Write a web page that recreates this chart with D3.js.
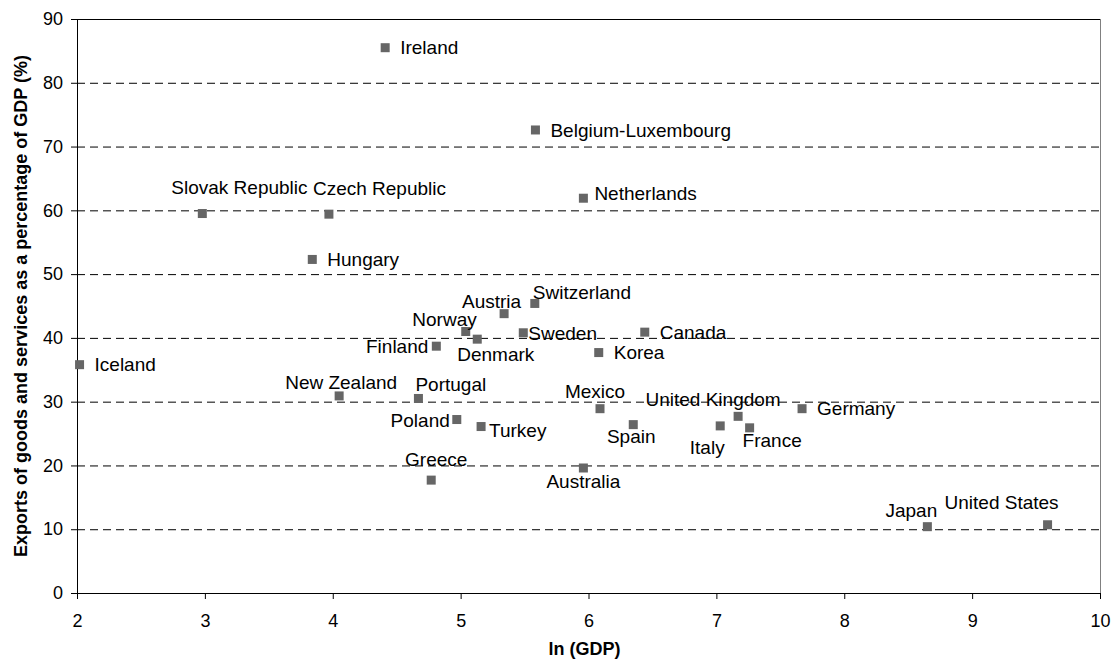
<!DOCTYPE html>
<html>
<head>
<meta charset="utf-8">
<script src="https://cdn.jsdelivr.net/npm/d3@7"></script>
<style>
  body { margin: 0; background: #fff; }
  text { font-family: "Liberation Sans", Arial, sans-serif; fill: #000; }
  .tick text { font-size: 18px; }
  .axisTitle { font-size: 18px; font-weight: bold; }
  .ptLabel { font-size: 19px; }
</style>
</head>
<body>
<div id="chart"></div>
<script>
// data
var countries = ["Ireland", "Belgium-Luxembourg", "Netherlands", "Slovak Republic", "Czech Republic",
  "Hungary", "Switzerland", "Austria", "Norway", "Sweden", "Canada", "Denmark", "Finland", "Korea",
  "Iceland", "New Zealand", "Portugal", "Mexico", "Germany", "United Kingdom", "Poland", "Spain",
  "Italy", "Turkey", "France", "Australia", "Greece", "Japan", "United States"];
var lnGdp = [4.41, 5.585, 5.96, 2.98, 3.97,
  3.84, 5.58, 5.34, 5.04, 5.49, 6.44, 5.13, 4.81, 6.08,
  2.02, 4.05, 4.67, 6.09, 7.67, 7.17, 4.97, 6.35,
  7.03, 5.16, 7.26, 5.96, 4.77, 8.65, 9.59];
var exportsPct = [85.5, 72.6, 61.9, 59.5, 59.4,
  52.3, 45.4, 43.8, 41.0, 40.8, 40.9, 39.8, 38.7, 37.7,
  35.8, 30.9, 30.5, 28.9, 28.9, 27.7, 27.2, 26.4,
  26.2, 26.1, 25.9, 19.6, 17.7, 10.4, 10.7];
var xTicks = [2, 3, 4, 5, 6, 7, 8, 9, 10];
var yTicks = [0, 10, 20, 30, 40, 50, 60, 70, 80, 90];

// where each label sits relative to its marker: [anchor, dx, dy]
var labelPos = {
  "Ireland": ["start", 15, 0],
  "Belgium-Luxembourg": ["start", 15, 0],
  "Netherlands": ["start", 11, -5],
  "Slovak Republic": ["start", -31, -26],
  "Czech Republic": ["start", -16, -26],
  "Hungary": ["start", 15, 0],
  "Switzerland": ["start", -2, -11],
  "Austria": ["end", 17, -12],
  "Norway": ["end", 11, -12],
  "Sweden": ["start", 5, 1],
  "Canada": ["start", 15, 0],
  "Denmark": ["start", -20, 15],
  "Finland": ["end", -8, 0],
  "Korea": ["start", 15, 0],
  "Iceland": ["start", 15, 0],
  "New Zealand": ["middle", 2, -14],
  "Portugal": ["start", -3, -14],
  "Mexico": ["middle", -5, -17],
  "Germany": ["start", 15, 0],
  "United Kingdom": ["middle", -25, -17],
  "Poland": ["end", -7, 1],
  "Spain": ["middle", -2, 12],
  "Italy": ["middle", -13, 21],
  "Turkey": ["start", 8, 4],
  "France": ["start", -7, 13],
  "Australia": ["middle", 0, 13],
  "Greece": ["middle", 5, -21],
  "Japan": ["middle", -16, -16],
  "United States": ["middle", -46, -22]
};

var points = countries.map(function (c, i) {
  return { name: c, x: lnGdp[i], y: exportsPct[i] };
});

var width = 1118, height = 668;
var margin = { top: 19, right: 18, bottom: 75, left: 77 };
var chartWidth = width - margin.left - margin.right;
var chartHeight = height - margin.top - margin.bottom;

var svg = d3.select("#chart").append("svg")
    .attr("width", width)
    .attr("height", height);

var chartGroup = svg.append("g")
    .attr("transform", `translate(${margin.left}, ${margin.top})`);

var xScale = d3.scaleLinear().domain([2, 10]).range([0, chartWidth]);
var yScale = d3.scaleLinear().domain([0, 90]).range([chartHeight, 0]);

// dashed gridlines
chartGroup.selectAll("line.grid")
    .data(yTicks.filter(d => d > 0 && d < 90))
    .enter().append("line")
    .attr("class", "grid")
    .attr("x1", 0).attr("x2", chartWidth)
    .attr("y1", d => yScale(d) + 0.5).attr("y2", d => yScale(d) + 0.5)
    .attr("stroke", "#000")
    .attr("stroke-dasharray", "8,5");

// plot border top / right
chartGroup.append("line")
    .attr("x1", 0).attr("x2", chartWidth)
    .attr("y1", 0.5).attr("y2", 0.5)
    .attr("stroke", "#000");
chartGroup.append("line")
    .attr("x1", chartWidth + 0.5).attr("x2", chartWidth + 0.5)
    .attr("y1", 0).attr("y2", chartHeight)
    .attr("stroke", "#808080");

// axes
var xAxis = d3.axisBottom(xScale).tickValues(xTicks).tickSize(6).tickPadding(15).tickFormat(d3.format("d"));
var yAxis = d3.axisLeft(yScale).tickValues(yTicks).tickSize(6).tickPadding(8).tickFormat(d3.format("d"));

var gx = chartGroup.append("g")
    .attr("transform", `translate(0, ${chartHeight})`)
    .call(xAxis);
var gy = chartGroup.append("g").call(yAxis);
[gx, gy].forEach(function (g) {
  g.select(".domain").attr("stroke", "#000");
  g.selectAll(".tick line").attr("stroke", "#000");
  g.selectAll(".tick text").attr("font-family", null).attr("font-size", null);
});

// axis titles
chartGroup.append("text")
    .attr("class", "axisTitle")
    .attr("x", chartWidth / 2 - 4)
    .attr("y", chartHeight + 56)
    .attr("dy", "0.35em")
    .attr("text-anchor", "middle")
    .text("ln (GDP)");

chartGroup.append("text")
    .attr("class", "axisTitle")
    .attr("transform", "rotate(-90)")
    .attr("x", -chartHeight / 2)
    .attr("y", -56)
    .attr("dy", "0.35em")
    .attr("text-anchor", "middle")
    .text("Exports of goods and services as a percentage of GDP (%)");

// markers
chartGroup.selectAll("rect.pt")
    .data(points)
    .enter().append("rect")
    .attr("class", "pt")
    .attr("x", d => xScale(d.x) - 4.5)
    .attr("y", d => yScale(d.y) - 4.5)
    .attr("width", 9)
    .attr("height", 9)
    .attr("fill", "#666666");

// labels
chartGroup.selectAll("text.ptLabel")
    .data(points)
    .enter().append("text")
    .attr("class", "ptLabel")
    .attr("x", d => xScale(d.x) + labelPos[d.name][1])
    .attr("y", d => yScale(d.y) + labelPos[d.name][2])
    .attr("dy", "0.35em")
    .attr("text-anchor", d => labelPos[d.name][0])
    .text(d => d.name);
</script>
</body>
</html>
